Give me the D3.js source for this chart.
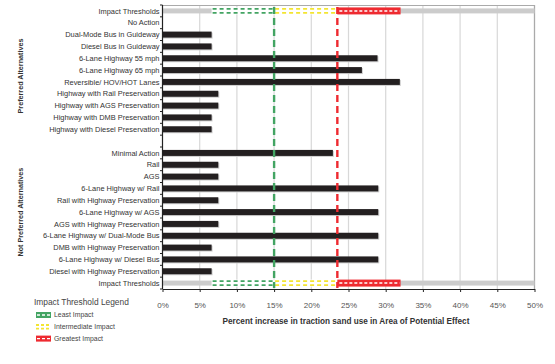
<!DOCTYPE html>
<html><head><meta charset="utf-8">
<script src="https://cdn.jsdelivr.net/npm/d3@7"></script>
<style>body{margin:0;background:#fff}svg{display:block}text{font-family:"Liberation Sans",Arial,sans-serif}</style>
</head><body><svg id="c" width="555" height="364"></svg>
<script>
const categories = ["Impact Thresholds","No Action","Dual-Mode Bus in Guideway","Diesel Bus in Guideway","6-Lane Highway 55 mph","6-Lane Highway 65 mph","Reversible/ HOV/HOT Lanes","Highway with Rail Preservation","Highway with AGS Preservation","Highway with DMB Preservation","Highway with Diesel Preservation","","Minimal Action","Rail","AGS","6-Lane Highway w/ Rail","Rail with Highway Preservation","6-Lane Highway w/ AGS","AGS with Highway Preservation","6-Lane Highway w/ Dual-Mode Bus","DMB with Highway Preservation","6-Lane Highway w/ Diesel Bus","Diesel with Highway Preservation","Impact Thresholds"];
const values = [null,0,6.6,6.6,28.9,26.8,31.9,7.5,7.5,6.6,6.6,null,22.9,7.5,7.5,29,7.5,29,7.5,29,6.6,29,6.6,null];
const thresholdRows = [0,23];
const thresholdBounds = [6.6,15,23.5,32];
const thresholdNames = ["Least Impact","Intermediate Impact","Greatest Impact"];
const thresholdLines = [15,23.5];
const groupNames = ["Preferred Alternatives","Not Preferred Alternatives"];
const groupRows = [[1,10],[12,22]];
const xTicks = [0,5,10,15,20,25,30,35,40,45,50];
const xTitle = "Percent increase in traction sand use in Area of Potential Effect";
const legendTitle = "Impact Threshold Legend";

const colors = ["#43a463","#f3e531","#ee2a30"];
const svg = d3.select("#c");
const x = d3.scaleLinear().domain([0,50]).range([162.5,534.5]);
const y = d3.scaleBand().domain(d3.range(categories.length)).range([5,289]);
const bw = y.bandwidth();
const cy = i => y(i)+bw/2;

// grid
svg.append("g").selectAll("line").data(xTicks.slice(1)).join("line")
  .attr("x1",d=>x(d)).attr("x2",d=>x(d)).attr("y1",5).attr("y2",289)
  .attr("stroke","#d8d8d8").attr("stroke-width",1.2);
svg.append("line").attr("x1",x(0)).attr("x2",x(50)).attr("y1",5.5).attr("y2",5.5).attr("stroke","#aaa").attr("stroke-width",1.2);
svg.append("line").attr("x1",x(50)).attr("x2",x(50)).attr("y1",5).attr("y2",289).attr("stroke","#aaa").attr("stroke-width",1.2);

// bars
const bars = categories.map((c,i)=>({i,v:values[i]})).filter(d=>d.v!==null&&d.v>0);
const bh = 6;
svg.append("g").selectAll("rect").data(bars).join("rect")
  .attr("x",x(0)).attr("y",d=>cy(d.i)-bh/2+1).attr("width",d=>x(d.v)-x(0)+1).attr("height",bh)
  .attr("fill","#cfcfcf");
svg.append("g").selectAll("rect").data(bars).join("rect")
  .attr("x",x(0)).attr("y",d=>cy(d.i)-bh/2).attr("width",d=>x(d.v)-x(0)).attr("height",bh)
  .attr("fill","#231f20");

// threshold rows
thresholdRows.forEach(r=>{
  const g = svg.append("g");
  const c = cy(r);
  g.append("rect").attr("x",x(0)).attr("y",c-2.5).attr("width",x(50)-x(0)).attr("height",5).attr("fill","#cccccc");
  thresholdNames.forEach((n,k)=>{
    const x0 = x(thresholdBounds[k]), x1 = x(thresholdBounds[k+1]);
    g.append("rect").attr("x",x0).attr("y",c-3.5).attr("width",x1-x0).attr("height",7).attr("fill",k===2?colors[2]:"#fff");
    if(k<2){
      [c-2,c+2].forEach(yy=>g.append("line").attr("x1",x0+1).attr("x2",x1).attr("y1",yy).attr("y2",yy)
        .attr("stroke",colors[k]).attr("stroke-width",1.8).attr("stroke-dasharray","4,3"));
    } else {
      g.append("line").attr("x1",x0+2).attr("x2",x1-1).attr("y1",c).attr("y2",c)
        .attr("stroke","#fff").attr("stroke-width",1.5).attr("stroke-dasharray","3,2");
    }
  });
});

// vertical threshold lines
thresholdLines.forEach((v,k)=>{
  svg.append("line").attr("x1",x(v)).attr("x2",x(v)).attr("y1",7).attr("y2",288)
    .attr("stroke",k===0?colors[0]:colors[2]).attr("stroke-width",2.4).attr("stroke-dasharray","7,4");
});

// axes
const xa = svg.append("g").attr("transform","translate(0,289)")
  .call(d3.axisBottom(x).tickValues(xTicks).tickFormat(d=>d+"%").tickSize(3).tickSizeOuter(0));
xa.select(".domain").attr("stroke","#222").attr("stroke-width",1.2);
xa.selectAll(".tick line").attr("stroke","#222");
xa.selectAll("text").attr("font-size",8).attr("fill","#555").attr("dy","1.6em");

const ya = svg.append("g").attr("transform",`translate(${x(0)},0)`);
ya.append("line").attr("x1",0).attr("x2",0).attr("y1",5).attr("y2",289).attr("stroke","#222").attr("stroke-width",1.2);
ya.selectAll("line.t").data(d3.range(categories.length+1)).join("line").attr("class","t")
  .attr("x1",-2.5).attr("x2",0).attr("y1",i=>5+i*bw).attr("y2",i=>5+i*bw).attr("stroke","#222");
ya.selectAll("text").data(categories).join("text")
  .attr("x",-3).attr("y",(d,i)=>cy(i)).attr("dy","0.35em").attr("text-anchor","end")
  .attr("font-size",7.45).attr("fill","#333").text(d=>d);

// group labels
groupNames.forEach((n,k)=>{
  const yc = (y(groupRows[k][0])+y(groupRows[k][1])+bw)/2;
  svg.append("text").attr("transform",`translate(23,${yc}) rotate(-90)`).attr("text-anchor","middle")
    .attr("font-size",7.2).attr("font-weight","bold").attr("fill","#333").text(n);
});

// x title
svg.append("text").attr("x",346).attr("y",324).attr("text-anchor","middle").attr("font-size",8.2)
  .attr("font-weight","bold").attr("fill","#333").text(xTitle);

// legend
svg.append("text").attr("x",34).attr("y",305).attr("font-size",8.4).attr("fill","#444").text(legendTitle);
thresholdNames.forEach((n,k)=>{
  const yy = 315+k*11.8;
  const g = svg.append("g");
  g.append("rect").attr("x",36).attr("y",yy-3).attr("width",15).attr("height",6).attr("fill",k===1?"#fff":colors[k]);
  if(k===1){
    [yy-1.8,yy+1.8].forEach(v=>g.append("line").attr("x1",36).attr("x2",51).attr("y1",v).attr("y2",v)
      .attr("stroke",colors[1]).attr("stroke-width",1.8).attr("stroke-dasharray","3,2"));
  } else {
    g.append("line").attr("x1",37).attr("x2",50).attr("y1",yy).attr("y2",yy).attr("stroke","#fff").attr("stroke-width",1.4).attr("stroke-dasharray","3,2");
  }
  g.append("text").attr("x",54).attr("y",yy).attr("dy","0.35em").attr("font-size",6.9).attr("fill","#444").text(n);
});
</script></body></html>
